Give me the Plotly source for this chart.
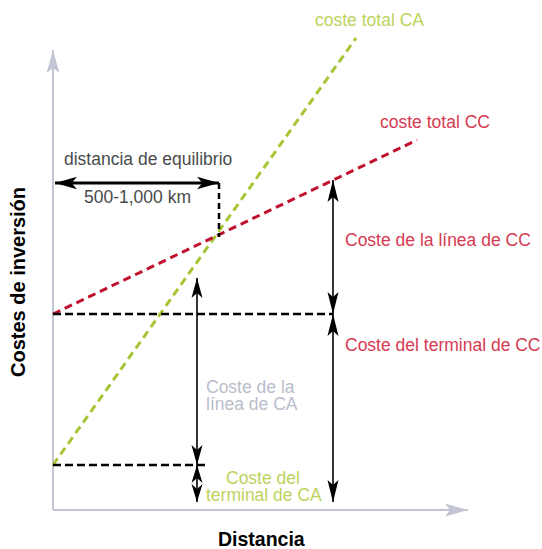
import plotly.graph_objects as go

# ---------------- data (arbitrary distance / cost units) ----------------
ca_total_x = [0, 30.3]          # coste total CA (line end points)
ca_total_y = [4.5, 47.2]
cc_total_x = [0, 36.4]          # coste total CC
cc_total_y = [19.6, 37.0]
ca_terminal_cost = 4.5
cc_terminal_cost = 19.6
equilibrium_distance = 16.6
equilibrium_cost = 27.3
equilibrium_label_level = 32.7
ca_line_arrow_x = 14.4
ca_line_arrow_top = 23.2
cc_arrow_x = 28.0
cc_line_top = 33.0
arrow_floor = 0.8
ca_terminal_dash_end = 15.2
x_axis_end = 41.5
y_axis_end = 46.0

GREEN_LINE = "#a7c636"
GREEN_TEXT = "#bdd35c"
RED_LINE = "#c0112e"
RED_TEXT = "#d63a52"
AXIS = "#c3c5d4"
GRAY_TEXT = "#4a4a4a"
LIGHT_TEXT = "#b9bdcb"
FONT = "Liberation Sans, Arial, Helvetica, sans-serif"

fig = go.Figure()


def seg(xs, ys, color, width, dash="solid"):
    fig.add_trace(go.Scatter(x=xs, y=ys, mode="lines", hoverinfo="skip",
                             line=dict(color=color, width=width, dash=dash),
                             showlegend=False))


shapes = []


def head(tx, ty, dx, dy, color, length=2.0, half=0.6, notch=0.55):
    bx, by = tx - dx * length, ty - dy * length
    px, py = -dy, dx
    nx, ny = tx - dx * (length - notch), ty - dy * (length - notch)
    path = (f"M{tx},{ty} L{bx + px * half},{by + py * half} "
            f"L{nx},{ny} L{bx - px * half},{by - py * half} Z")
    shapes.append(dict(type="path", path=path, xref="x", yref="y",
                       fillcolor=color, line=dict(width=0), layer="above"))


def arrow(x0, y0, x1, y1, color, width, both=True, **kw):
    seg([x0, x1], [y0, y1], color, width)
    L = ((x1 - x0) ** 2 + (y1 - y0) ** 2) ** 0.5
    dx, dy = (x1 - x0) / L, (y1 - y0) / L
    head(x1, y1, dx, dy, color, **kw)
    if both:
        head(x0, y0, -dx, -dy, color, **kw)


# axes
arrow(0, 0, 0, y_axis_end, AXIS, 2, both=False, length=2.3, half=0.65, notch=0.5)
arrow(0, 0, x_axis_end, 0, AXIS, 2, both=False, length=2.3, half=0.65, notch=0.5)

# total cost lines
seg(ca_total_x, ca_total_y, GREEN_LINE, 3, "8px,5px")
seg(cc_total_x, cc_total_y, RED_LINE, 3, "8px,5px")

# black dashed guides
seg([0, cc_arrow_x], [cc_terminal_cost, cc_terminal_cost], "black", 2.5, "8px,4px")
seg([0, ca_terminal_dash_end], [ca_terminal_cost, ca_terminal_cost], "black", 2.5, "8px,4px")
seg([equilibrium_distance, equilibrium_distance],
    [equilibrium_label_level, equilibrium_cost], "black", 2.5, "6px,4px")

# arrows
arrow(0.2, equilibrium_label_level, equilibrium_distance, equilibrium_label_level,
      "black", 3, length=2.2, half=0.62, notch=0.55)
arrow(ca_line_arrow_x, ca_line_arrow_top, ca_line_arrow_x, ca_terminal_cost, "black", 1.6,
      length=2.0, half=0.55, notch=0.5)
arrow(ca_line_arrow_x, ca_terminal_cost, ca_line_arrow_x, arrow_floor, "black", 1.6,
      length=1.8, half=0.55, notch=0.5)
arrow(cc_arrow_x, cc_line_top, cc_arrow_x, cc_terminal_cost, "black", 1.6,
      length=2.2, half=0.55, notch=0.5)
arrow(cc_arrow_x, cc_terminal_cost, cc_arrow_x, arrow_floor, "black", 1.6,
      length=2.2, half=0.55, notch=0.5)

# texts
ann = []


def txt(x, y, s, color, size=17.5, xanchor="left", bold=False, angle=0):
    ann.append(dict(x=x, y=y, xref="x", yref="y", text=s, showarrow=False,
                    xanchor=xanchor, yanchor="middle", textangle=angle,
                    font=dict(family=FONT, size=size, color=color,
                              weight="bold" if bold else "normal")))


txt(26.0, 49.0, "coste total CA", GREEN_TEXT)
txt(32.5, 38.8, "coste total CC", RED_TEXT)
txt(0.9, 35.1, "distancia de equilibrio", GRAY_TEXT)
txt(2.9, 31.3, "500-1,000 km", GRAY_TEXT)
txt(29.0, 27.0, "Coste de la línea de CC", RED_TEXT)
txt(29.0, 16.5, "Coste del terminal de CC", RED_TEXT)
txt(15.1, 12.3, "Coste de la", LIGHT_TEXT)
txt(15.1, 10.6, "línea de CA", LIGHT_TEXT)
txt(21.0, 3.2, "Coste del", GREEN_TEXT, xanchor="center")
txt(21.1, 1.5, "terminal de CA", GREEN_TEXT, xanchor="center")
txt(-3.5, 22.8, "Costes de inversión", "black", size=20, xanchor="center", bold=True, angle=-90)
txt(20.8, -2.9, "Distancia", "black", size=19.5, xanchor="center", bold=True)

fig.update_layout(
    width=542, height=549,
    margin=dict(l=0, r=0, t=0, b=0),
    paper_bgcolor="white", plot_bgcolor="white",
    xaxis=dict(range=[-5.3, 48.9], visible=False, fixedrange=True),
    yaxis=dict(range=[-3.9, 51.0], visible=False, fixedrange=True),
    shapes=shapes, annotations=ann, showlegend=False,
)

fig.write_html("out.html",
               config={"displayModeBar": False},
               post_script="document.body.style.margin='0';"
                           "document.body.style.overflow='hidden';")
